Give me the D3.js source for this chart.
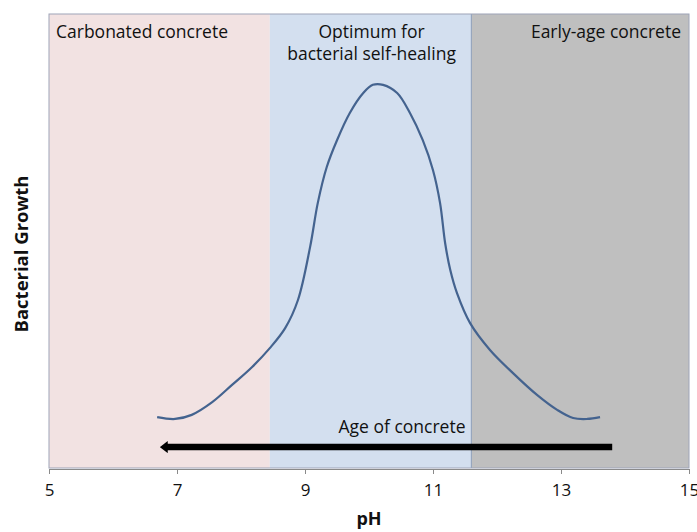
<!DOCTYPE html>
<html>
<head>
<meta charset="utf-8">
<script src="https://cdn.jsdelivr.net/npm/d3@7"></script>
<style>
  body { margin: 0; background: #fff; }
  text { font-family: "Open Sans", "Noto Sans", sans-serif; fill: #111; }
</style>
</head>
<body>
<svg id="chart" width="697" height="532"></svg>
<script>
// pH zones (start, end) and their labels
var zoneStart = [5, 8.45, 11.6];
var zoneEnd   = [8.45, 11.6, 15];
var zoneFill  = ["#f2e2e2", "#d3dfef", "#bfbfbf"];
var zoneLabel = [["Carbonated concrete"], ["Optimum for", "bacterial self-healing"], ["Early-age concrete"]];

// growth curve (pH, relative growth)
var curvePH = [6.69, 6.97, 7.23, 7.55, 7.86, 8.17, 8.45, 8.69, 8.89, 9.08, 9.20, 9.34, 9.50, 9.70, 9.91, 10.06, 10.22,
               10.44, 10.64, 10.84, 11.00, 11.11, 11.19, 11.27, 11.375, 11.58, 11.89, 12.25, 12.625, 12.94, 13.19, 13.41, 13.61];
var curveGrowth = [11.2, 10.8, 11.7, 14.5, 18.3, 22.2, 26.4, 30.8, 37.0, 48.7, 58.4, 66.3, 72.2, 78.2, 82.6, 84.4, 84.4,
                   82.6, 78.2, 72.2, 65.6, 58.4, 49.5, 43.6, 38.5, 31.9, 26.0, 20.9, 16.1, 12.8, 11.0, 10.8, 11.2];

// arrow "Age of concrete" from high pH to low pH
var arrowFrom = 13.8, arrowTo = 6.73, arrowLevel = 4.6;

var xTicks = [5, 7, 9, 11, 13, 15];

var svg = d3.select("#chart");
var margin = {left: 49, right: 8, top: 14, bottom: 64};
var W = 697, H = 532;

var x = d3.scaleLinear().domain([5, 15]).range([margin.left, W - margin.right]);
var y = d3.scaleLinear().domain([0, 100]).range([H - margin.bottom, margin.top]);

// zones
var zones = svg.append("g");
zones.selectAll("rect")
  .data(zoneStart)
  .enter().append("rect")
  .attr("x", function(d) { return x(d); })
  .attr("y", y(100))
  .attr("width", function(d, i) { return x(zoneEnd[i]) - x(d); })
  .attr("height", y(0) - y(100))
  .attr("fill", function(d, i) { return zoneFill[i]; });

// borders of zones
svg.append("rect")
  .attr("x", x(5)).attr("y", y(100))
  .attr("width", x(15) - x(5)).attr("height", y(0) - y(100))
  .attr("fill", "none").attr("stroke", "#9ea4b8").attr("stroke-width", 1);
svg.append("line")
  .attr("x1", x(zoneStart[2])).attr("x2", x(zoneStart[2]))
  .attr("y1", y(100)).attr("y2", y(0))
  .attr("stroke", "#97a6bd").attr("stroke-width", 1.2);

// zone labels
var fs = "17.5px";
svg.append("text").attr("x", x(5) + 7).attr("y", 38)
  .style("font-size", fs).text(zoneLabel[0][0]);
zoneLabel[1].forEach(function(t, i) {
  svg.append("text").attr("x", (x(zoneStart[1]) + x(zoneEnd[1])) / 2 + 1).attr("y", 38 + i * 22)
    .attr("text-anchor", "middle").style("font-size", fs).text(t);
});
svg.append("text").attr("x", x(15) - 8).attr("y", 38)
  .attr("text-anchor", "end").style("font-size", fs).text(zoneLabel[2][0]);

// curve
var line = d3.line()
  .x(function(d) { return x(d); })
  .y(function(d, i) { return y(curveGrowth[i]); })
  .curve(d3.curveCatmullRom.alpha(0.5));
svg.append("path")
  .datum(curvePH)
  .attr("d", line)
  .attr("fill", "none")
  .attr("stroke", "#44638f")
  .attr("stroke-width", 2.2);

// arrow
svg.append("defs").append("marker")
  .attr("id", "head")
  .attr("markerUnits", "userSpaceOnUse")
  .attr("viewBox", "0 0 8 12")
  .attr("refX", 1).attr("refY", 6)
  .attr("markerWidth", 8).attr("markerHeight", 12)
  .attr("orient", "auto")
  .append("path").attr("d", "M0,0 L8,6 L0,12 z").attr("fill", "#000");
svg.append("line")
  .attr("x1", x(arrowFrom)).attr("x2", x(arrowTo) + 7)
  .attr("y1", y(arrowLevel)).attr("y2", y(arrowLevel))
  .attr("stroke", "#000").attr("stroke-width", 6.5)
  .attr("marker-end", "url(#head)");
svg.append("text")
  .attr("x", 402).attr("y", 433)
  .attr("text-anchor", "middle").style("font-size", fs)
  .text("Age of concrete");

// x axis
var axis = svg.append("g")
  .attr("transform", "translate(0," + (y(0) + 1) + ")")
  .call(d3.axisBottom(x).tickValues(xTicks).tickSize(5).tickPadding(10).tickFormat(d3.format("d")));
axis.select(".domain").attr("stroke", "#8a8a8a");
axis.selectAll(".tick line").attr("stroke", "#8a8a8a");
axis.selectAll(".tick text").style("font-size", "17px").style("font-family", "'Open Sans', sans-serif").attr("fill", "#111");

// axis titles
svg.append("text").attr("x", 369).attr("y", 525)
  .attr("text-anchor", "middle").style("font-size", "18px").style("font-weight", "bold").text("pH");
svg.append("text")
  .attr("transform", "translate(28,254) rotate(-90)")
  .attr("text-anchor", "middle").style("font-size", "18.5px").style("font-weight", "bold")
  .text("Bacterial Growth");
</script>
</body>
</html>
